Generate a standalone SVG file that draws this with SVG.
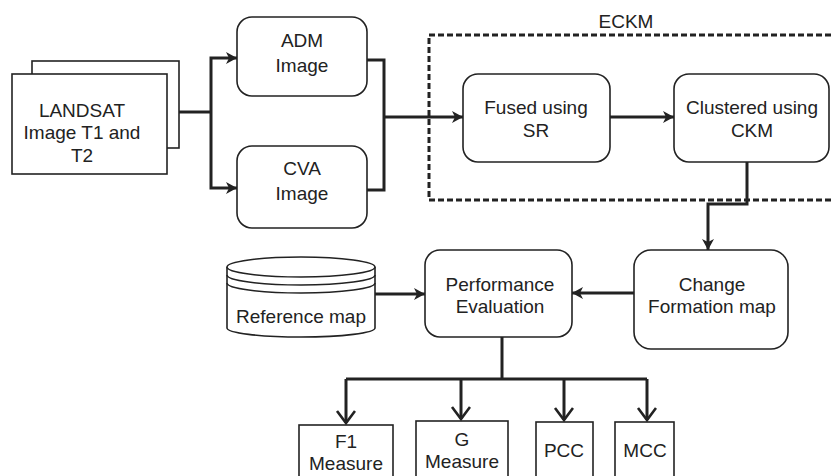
<svg xmlns="http://www.w3.org/2000/svg" width="831" height="476" viewBox="0 0 831 476">
<style>
  .box{fill:#fff;stroke:#222;stroke-width:1.6}
  .t{font-family:"Liberation Sans",Arial,sans-serif;font-size:19px;fill:#222;text-anchor:middle}
  .c{fill:none;stroke:#222;stroke-width:3}
  .dash{fill:none;stroke:#222;stroke-width:3;stroke-dasharray:6 3}
</style>
<defs>
  <marker id="fa" markerUnits="userSpaceOnUse" markerWidth="12" markerHeight="12" refX="11" refY="6" orient="auto">
    <path d="M0,0 L11,6 L0,12 L3,6 z" fill="#222"/>
  </marker>
  <marker id="oa" markerUnits="userSpaceOnUse" markerWidth="16" markerHeight="22" refX="13" refY="10" orient="auto">
    <path d="M1,1 L13,10 L1,19" fill="none" stroke="#222" stroke-width="2.6"/>
  </marker>
</defs>

<rect class="dash" x="429" y="35" width="420" height="165"/>
<text class="t" x="626" y="28">ECKM</text>

<g id="landsat">
  <rect class="box" x="32" y="61" width="147" height="87"/>
  <rect class="box" x="12" y="74" width="155" height="100"/>
  <text class="t" x="82" y="117">LANDSAT</text>
  <text class="t" x="82" y="139">Image T1 and</text>
  <text class="t" x="82" y="162">T2</text>
</g>
<g id="adm">
  <rect class="box" x="237" y="17" width="130" height="79" rx="15"/>
  <text class="t" x="302" y="47">ADM</text>
  <text class="t" x="302" y="72">Image</text>
</g>
<g id="cva">
  <rect class="box" x="237" y="146" width="130" height="82" rx="15"/>
  <text class="t" x="302" y="175">CVA</text>
  <text class="t" x="302" y="200">Image</text>
</g>
<g id="fused">
  <rect class="box" x="463" y="74" width="147" height="88" rx="15"/>
  <text class="t" x="536" y="114">Fused using</text>
  <text class="t" x="536" y="137">SR</text>
</g>
<g id="clustered">
  <rect class="box" x="674" y="74" width="155" height="88" rx="15"/>
  <text class="t" x="752" y="114">Clustered using</text>
  <text class="t" x="752" y="137">CKM</text>
</g>
<g id="change">
  <rect class="box" x="634" y="250" width="154" height="99" rx="17"/>
  <text class="t" x="712" y="291">Change</text>
  <text class="t" x="712" y="313">Formation map</text>
</g>
<g id="performance">
  <rect class="box" x="425" y="250" width="147" height="87" rx="15"/>
  <text class="t" x="500" y="291">Performance</text>
  <text class="t" x="500" y="313">Evaluation</text>
</g>
<g id="reference">
  <path class="box" d="M227,267 L227,328 A74,9 0 0 0 375,328 L375,267"/>
  <ellipse class="box" cx="301" cy="267" rx="74" ry="10"/>
  <path d="M227,275 A74,10 0 0 0 375,275" fill="none" stroke="#222" stroke-width="1.6"/>
  <path d="M227,283 A74,10 0 0 0 375,283" fill="none" stroke="#222" stroke-width="1.6"/>
  <text class="t" x="301" y="323">Reference map</text>
</g>
<g id="f1">
  <rect class="box" x="299" y="425" width="94" height="60"/>
  <text class="t" x="346" y="448">F1</text>
  <text class="t" x="346" y="470">Measure</text>
</g>
<g id="g">
  <rect class="box" x="416" y="421" width="92" height="64"/>
  <text class="t" x="462" y="446">G</text>
  <text class="t" x="462" y="468">Measure</text>
</g>
<g id="pcc">
  <rect class="box" x="536" y="422" width="57" height="63"/>
  <text class="t" x="564" y="457">PCC</text>
</g>
<g id="mcc">
  <rect class="box" x="615" y="422" width="59" height="63"/>
  <text class="t" x="645" y="457">MCC</text>
</g>

<g id="connectors">
  <path class="c" d="M179,112 H211"/>
  <path class="c" d="M211,112 V58 H237" marker-end="url(#fa)"/>
  <path class="c" d="M211,112 V188 H237" marker-end="url(#fa)"/>
  <path class="c" d="M367,60 H384 V190 H367"/>
  <path class="c" d="M384,117 H463" marker-end="url(#fa)"/>
  <path class="c" d="M610,117 H674" marker-end="url(#fa)"/>
  <path class="c" d="M747,162 V204 H708 V250" marker-end="url(#fa)"/>
  <path class="c" d="M634,293 H572" marker-end="url(#fa)"/>
  <path class="c" d="M375,294 H425" marker-end="url(#fa)"/>
  <path class="c" d="M502,337 V379"/>
  <path class="c" d="M346,379 H647"/>
  <path class="c" d="M346,379 V423" marker-end="url(#oa)"/>
  <path class="c" d="M461,379 V419" marker-end="url(#oa)"/>
  <path class="c" d="M564,379 V420" marker-end="url(#oa)"/>
  <path class="c" d="M647,379 V420" marker-end="url(#oa)"/>
</g>
</svg>
